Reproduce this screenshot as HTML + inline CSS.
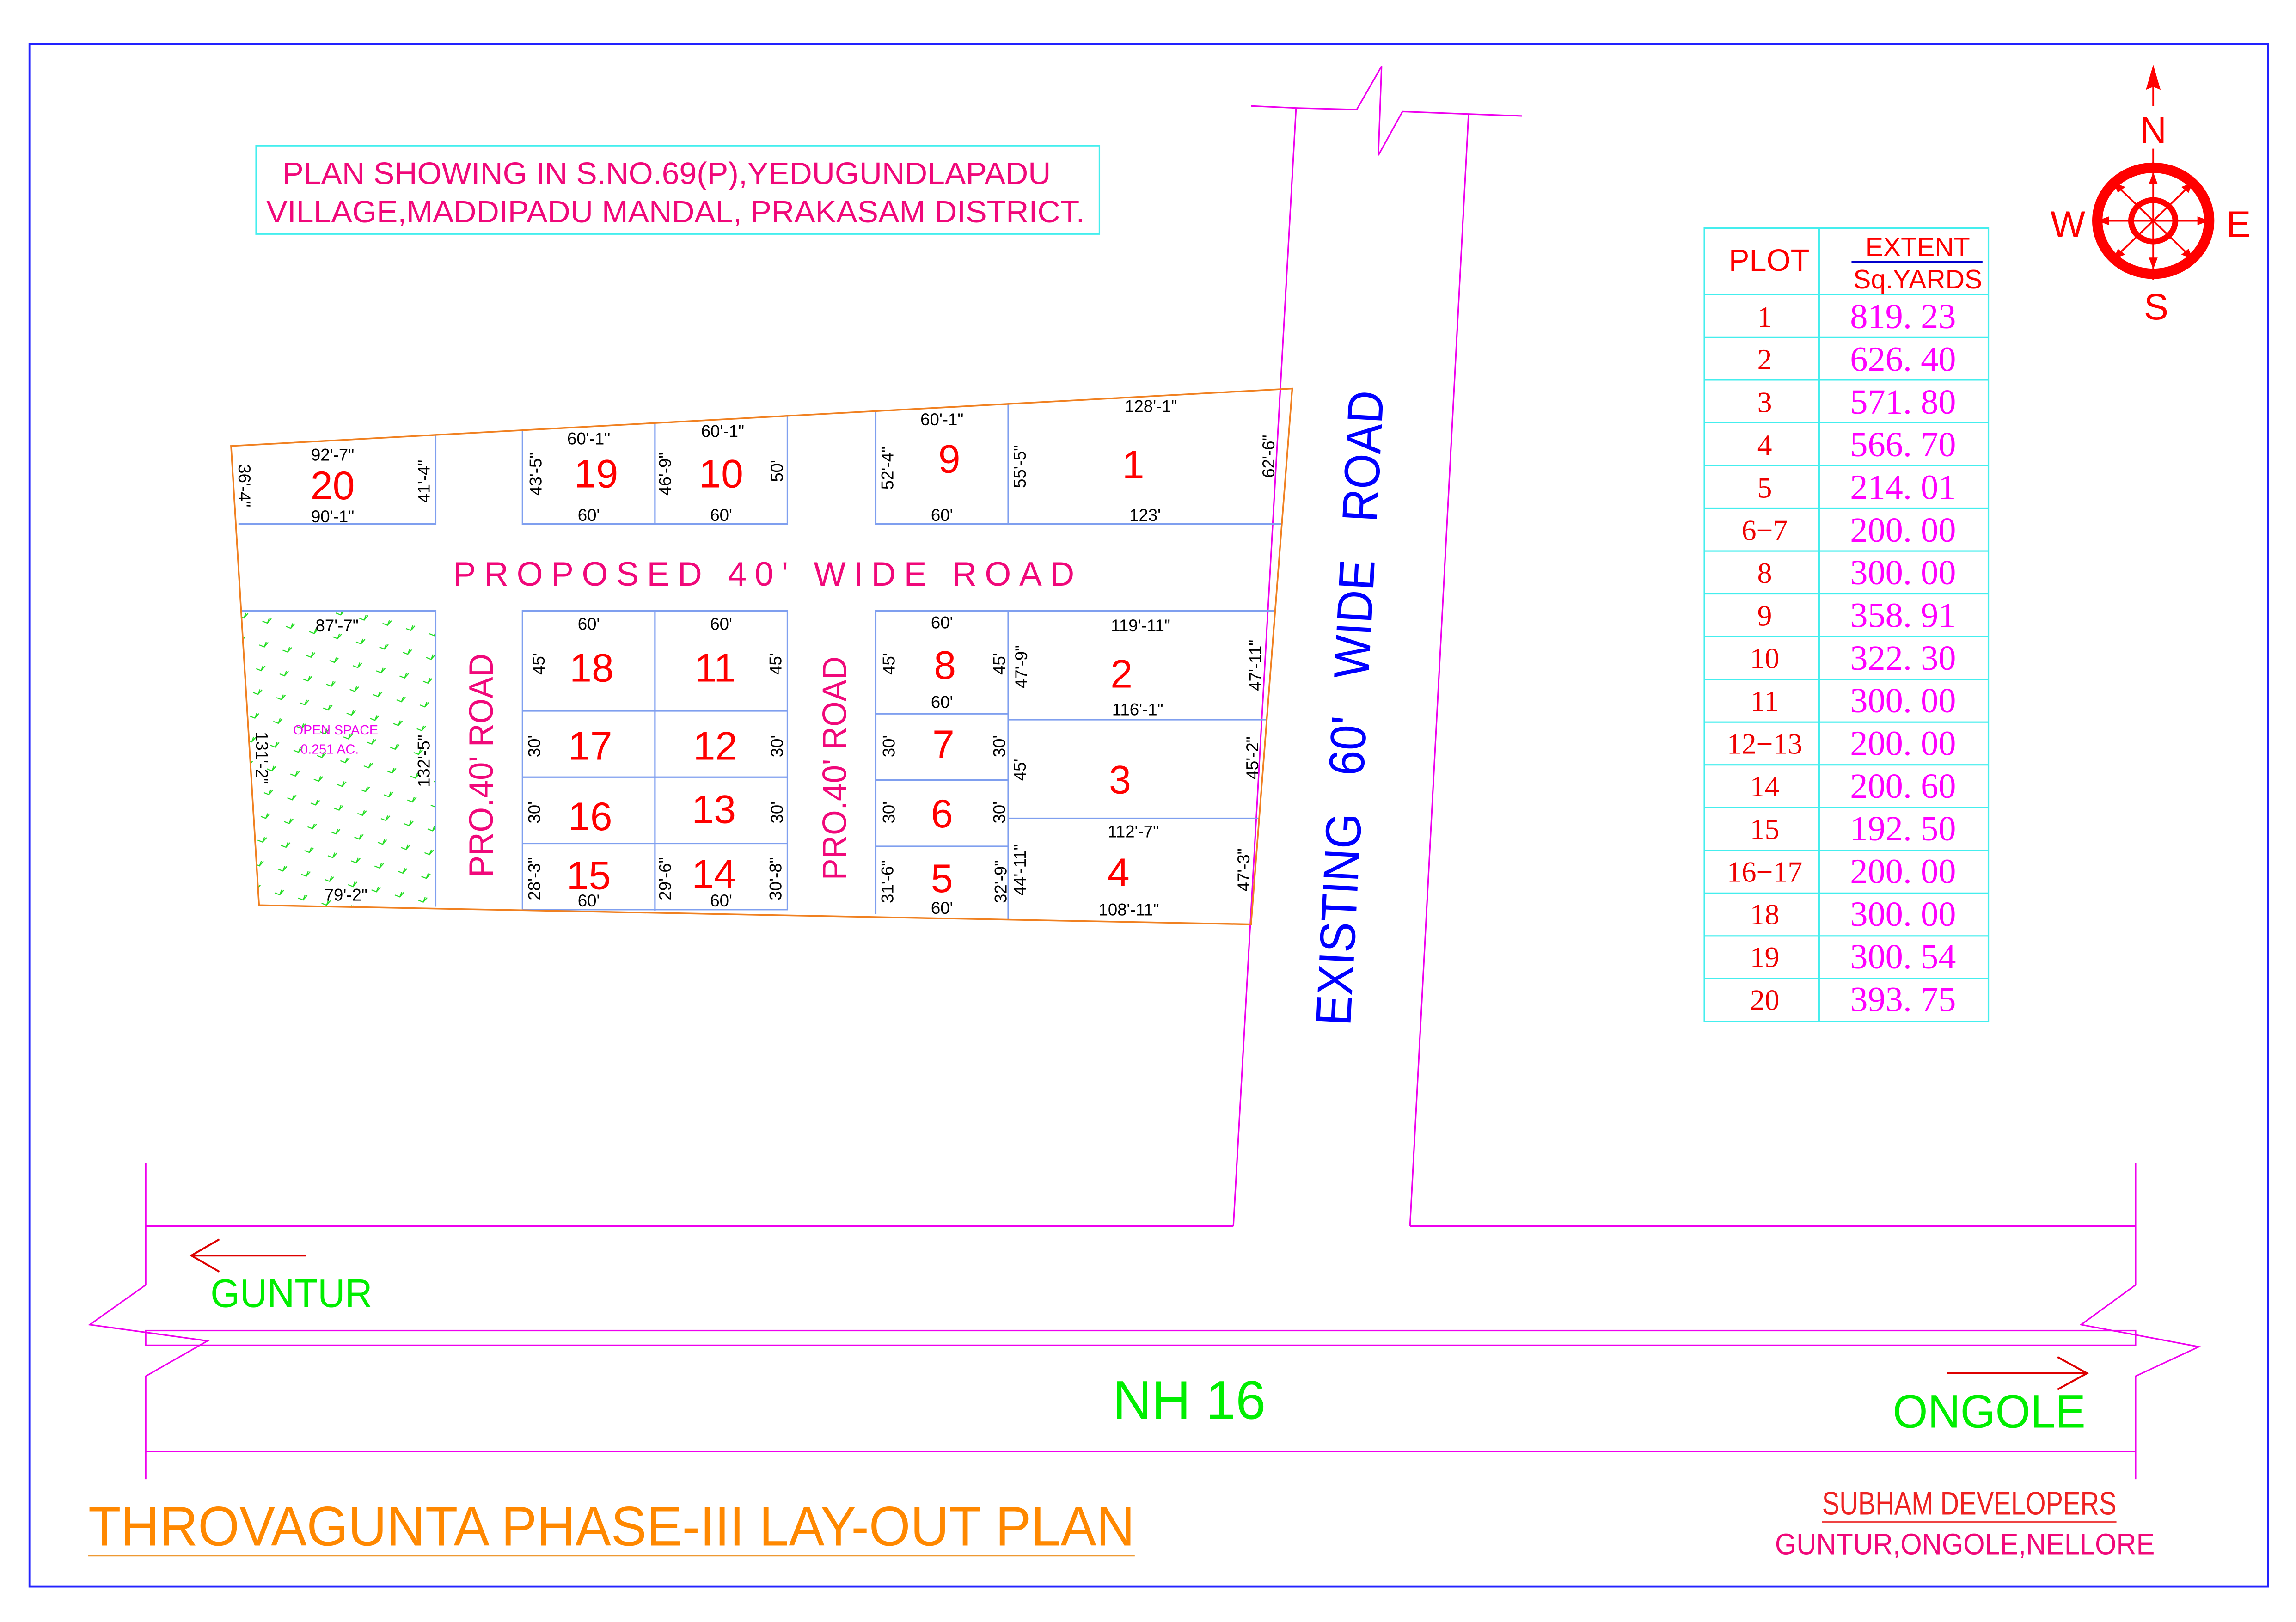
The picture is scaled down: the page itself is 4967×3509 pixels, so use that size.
<!DOCTYPE html>
<html><head><meta charset="utf-8"><style>
html,body{margin:0;padding:0;background:#fff;}
svg{display:block;}
text{font-family:"Liberation Sans",sans-serif;}
.d{font-size:11.5px;fill:#000;text-anchor:middle;dominant-baseline:central;}
.n{font-size:27px;fill:#f00;text-anchor:middle;dominant-baseline:central;}
.tp{font-family:"Liberation Serif",serif;font-size:20px;fill:#e00;text-anchor:middle;}
.tv{font-family:"Liberation Serif",serif;font-size:24px;fill:#f0f;text-anchor:middle;}
</style></head><body>
<svg width="4967" height="3509" viewBox="0 0 1560 1102" preserveAspectRatio="none" xmlns="http://www.w3.org/2000/svg">
<defs>
<pattern id="g" width="22" height="24" patternUnits="userSpaceOnUse" patternTransform="rotate(-35)">
<path d="M3 4 l2 3 l3 -2 M5 7 l4 -1" stroke="#2d2" stroke-width="0.7" fill="none"/>
<path d="M14 16 l2 3 l3 -2 M16 19 l4 -1" stroke="#2d2" stroke-width="0.7" fill="none"/>
</pattern>
</defs>
<rect width="1560" height="1102" fill="#fff"/>
<rect x="20" y="30" width="1521" height="1048" fill="none" stroke="#22f" stroke-width="1.2"/>

<rect x="174" y="99" width="573" height="60" fill="none" stroke="#4ee" stroke-width="1"/>
<text x="192" y="125" font-size="21" fill="#f0087a" textLength="522" lengthAdjust="spacingAndGlyphs">PLAN SHOWING IN S.NO.69(P),YEDUGUNDLAPADU</text>
<text x="181" y="151" font-size="21" fill="#f0087a" textLength="556" lengthAdjust="spacingAndGlyphs">VILLAGE,MADDIPADU MANDAL, PRAKASAM DISTRICT.</text>

<g stroke="#e0e" stroke-width="1" fill="none">
<polyline points="850,72 880.6,73.4 921.8,74.5 938.7,45 936.5,105.5 952.9,75.8 997.8,77.5 1034,78.8"/>
<line x1="880.6" y1="73.4" x2="838" y2="833"/>
<line x1="997.8" y1="77.5" x2="958" y2="833"/>
<polyline points="99,833 838,833"/>
<polyline points="958,833 1451,833"/>
<line x1="99" y1="790" x2="99" y2="873"/>
<polyline points="99,873 61,900 141,911 99,935 99,1005"/>
<line x1="1451" y1="790" x2="1451" y2="873"/>
<polyline points="1451,873 1414,900 1494,915 1451,935 1451,1005"/>
<rect x="99" y="904" width="1352" height="10"/>
<line x1="99" y1="986" x2="1451" y2="986"/>
</g>
<g stroke="#d00" stroke-width="1.3" fill="none">
<line x1="130" y1="853" x2="208" y2="853"/><polyline points="149,842 130,853 149,864"/>
<line x1="1323" y1="933" x2="1418" y2="933"/><polyline points="1398,922 1418,933 1398,944"/>
</g>
<text x="143" y="888" font-size="27" fill="#0e0" textLength="110" lengthAdjust="spacingAndGlyphs">GUNTUR</text>
<text x="756" y="964" font-size="37" fill="#0e0" textLength="104" lengthAdjust="spacingAndGlyphs">NH 16</text>
<text x="1286" y="970" font-size="32" fill="#0e0" textLength="131" lengthAdjust="spacingAndGlyphs">ONGOLE</text>

<text x="60" y="1050" font-size="38" fill="#f80" textLength="711" lengthAdjust="spacingAndGlyphs">THROVAGUNTA PHASE-III LAY-OUT PLAN</text>
<line x1="60" y1="1057" x2="771" y2="1057" stroke="#e93" stroke-width="1"/>
<text x="1238" y="1029" font-size="22" fill="#e22" font-family="Liberation Serif,serif" textLength="200" lengthAdjust="spacingAndGlyphs">SUBHAM  DEVELOPERS</text>
<line x1="1238" y1="1034" x2="1438" y2="1034" stroke="#e44" stroke-width="1"/>
<text x="1206" y="1056" font-size="20" fill="#f0087a" textLength="258" lengthAdjust="spacingAndGlyphs">GUNTUR,ONGOLE,NELLORE</text>

<text transform="translate(917,481) rotate(-87)" font-size="34" fill="#00f" text-anchor="middle" dominant-baseline="central" textLength="432" lengthAdjust="spacingAndGlyphs" xml:space="preserve">EXISTING   60'   WIDE   ROAD</text>

<polygon points="164,415 296,415 296,616 176,615" fill="url(#g)"/>

<g stroke="#7f9fef" stroke-width="1" fill="none">
<polyline points="162,356 296,356 296,295.5"/>
<polyline points="355,292 355,356 535,356 535,282.5"/>
<line x1="445" y1="287.4" x2="445" y2="356"/>
<polyline points="595,279 595,356 871,356"/>
<line x1="685" y1="274.4" x2="685" y2="356"/>
<polyline points="164,415 296,415 296,616"/>
<rect x="355" y="415" width="180" height="203"/>
<line x1="445" y1="415" x2="445" y2="619"/>
<line x1="355" y1="483" x2="535" y2="483"/>
<line x1="355" y1="528" x2="535" y2="528"/>
<line x1="355" y1="573" x2="535" y2="573"/>
<polyline points="595,621 595,415 866,415"/>
<line x1="685" y1="415" x2="685" y2="625"/>
<line x1="595" y1="485" x2="685" y2="485"/>
<line x1="595" y1="530" x2="685" y2="530"/>
<line x1="595" y1="575" x2="685" y2="575"/>
<line x1="685" y1="489" x2="861" y2="489"/>
<line x1="685" y1="556" x2="856" y2="556"/>
</g>
<polygon points="157,303 878,264 850,628 176,615" fill="none" stroke="#f08020" stroke-width="1.1"/>

<text x="519" y="390" font-size="23" fill="#f0087a" text-anchor="middle" dominant-baseline="central" textLength="422" lengthAdjust="spacing">PROPOSED 40' WIDE ROAD</text>
<text transform="translate(327,520) rotate(-90)" font-size="23" fill="#f0087a" text-anchor="middle" dominant-baseline="central" textLength="152" lengthAdjust="spacingAndGlyphs">PRO.40' ROAD</text>
<text transform="translate(567,522) rotate(-90)" font-size="23" fill="#f0087a" text-anchor="middle" dominant-baseline="central" textLength="152" lengthAdjust="spacingAndGlyphs">PRO.40' ROAD</text>

<text class="n" x="226" y="330">20</text>
<text class="n" x="405" y="322">19</text>
<text class="n" x="490" y="322">10</text>
<text class="n" x="645" y="312">9</text>
<text class="n" x="770" y="316">1</text>
<text class="n" x="402" y="454">18</text>
<text class="n" x="486" y="454">11</text>
<text class="n" x="401" y="507">17</text>
<text class="n" x="486" y="507">12</text>
<text class="n" x="401" y="555">16</text>
<text class="n" x="485" y="550">13</text>
<text class="n" x="400" y="595">15</text>
<text class="n" x="485" y="594">14</text>
<text class="n" x="642" y="452">8</text>
<text class="n" x="641" y="506">7</text>
<text class="n" x="640" y="553">6</text>
<text class="n" x="640" y="597">5</text>
<text class="n" x="762" y="458">2</text>
<text class="n" x="761" y="530">3</text>
<text class="n" x="760" y="593">4</text>

<text class="d" x="226" y="309">92'-7"</text>
<text class="d" x="226" y="351">90'-1"</text>
<text class="d" x="400" y="298">60'-1"</text>
<text class="d" x="400" y="350">60'</text>
<text class="d" x="491" y="293">60'-1"</text>
<text class="d" x="490" y="350">60'</text>
<text class="d" x="640" y="285">60'-1"</text>
<text class="d" x="640" y="350">60'</text>
<text class="d" x="782" y="276">128'-1"</text>
<text class="d" x="778" y="350">123'</text>
<text class="d" x="229" y="425">87'-7"</text>
<text class="d" x="235" y="608">79'-2"</text>
<text class="d" x="400" y="424">60'</text>
<text class="d" x="490" y="424">60'</text>
<text class="d" x="400" y="612">60'</text>
<text class="d" x="490" y="612">60'</text>
<text class="d" x="640" y="423">60'</text>
<text class="d" x="640" y="477">60'</text>
<text class="d" x="640" y="617">60'</text>
<text class="d" x="775" y="425">119'-11"</text>
<text class="d" x="773" y="482">116'-1"</text>
<text class="d" x="770" y="565">112'-7"</text>
<text class="d" x="767" y="618">108'-11"</text>
<text x="228" y="499" font-size="9" fill="#e0e" text-anchor="middle">OPEN SPACE</text>
<text x="224" y="512" font-size="9" fill="#e0e" text-anchor="middle">0.251 AC.</text>

<text class="d" transform="translate(166,330) rotate(90)">36'-4"</text>
<text class="d" transform="translate(178,515) rotate(90)">131'-2"</text>
<g>
<text class="d" transform="translate(288,327) rotate(-90)">41'-4"</text>
<text class="d" transform="translate(288,517) rotate(-90)">132'-5"</text>
<text class="d" transform="translate(364,322) rotate(-90)">43'-5"</text>
<text class="d" transform="translate(452,322) rotate(-90)">46'-9"</text>
<text class="d" transform="translate(528,320) rotate(-90)">50'</text>
<text class="d" transform="translate(603,318) rotate(-90)">52'-4"</text>
<text class="d" transform="translate(693,317) rotate(-90)">55'-5"</text>
<text class="d" transform="translate(862,310) rotate(-90)">62'-6"</text>
<text class="d" transform="translate(366,451) rotate(-90)">45'</text>
<text class="d" transform="translate(527,451) rotate(-90)">45'</text>
<text class="d" transform="translate(363,507) rotate(-90)">30'</text>
<text class="d" transform="translate(528,507) rotate(-90)">30'</text>
<text class="d" transform="translate(363,552) rotate(-90)">30'</text>
<text class="d" transform="translate(528,552) rotate(-90)">30'</text>
<text class="d" transform="translate(363,597) rotate(-90)">28'-3"</text>
<text class="d" transform="translate(452,597) rotate(-90)">29'-6"</text>
<text class="d" transform="translate(527,597) rotate(-90)">30'-8"</text>
<text class="d" transform="translate(604,451) rotate(-90)">45'</text>
<text class="d" transform="translate(679,451) rotate(-90)">45'</text>
<text class="d" transform="translate(604,507) rotate(-90)">30'</text>
<text class="d" transform="translate(679,507) rotate(-90)">30'</text>
<text class="d" transform="translate(604,552) rotate(-90)">30'</text>
<text class="d" transform="translate(679,552) rotate(-90)">30'</text>
<text class="d" transform="translate(603,599) rotate(-90)">31'-6"</text>
<text class="d" transform="translate(680,599) rotate(-90)">32'-9"</text>
<text class="d" transform="translate(694,453) rotate(-90)">47'-9"</text>
<text class="d" transform="translate(853,452) rotate(-90)">47'-11"</text>
<text class="d" transform="translate(693,523) rotate(-90)">45'</text>
<text class="d" transform="translate(851,515) rotate(-90)">45'-2"</text>
<text class="d" transform="translate(693,591) rotate(-90)">44'-11"</text>
<text class="d" transform="translate(845,591) rotate(-90)">47'-3"</text>
</g>

<g stroke="#f00" fill="none">
<ellipse cx="1463" cy="150" rx="38" ry="36" stroke-width="7"/>
<ellipse cx="1463" cy="150" rx="15" ry="14" stroke-width="4"/>
<line x1="1463" y1="110" x2="1463" y2="190" stroke-width="1.2"/>
<line x1="1427" y1="150" x2="1499" y2="150" stroke-width="1.2"/>
<line x1="1437" y1="125" x2="1489" y2="175" stroke-width="1.2"/>
<line x1="1489" y1="125" x2="1437" y2="175" stroke-width="1.2"/>
<line x1="1463" y1="57" x2="1463" y2="72" stroke-width="1.2"/>
<line x1="1463" y1="101" x2="1463" y2="114" stroke-width="1.2"/>
</g>
<g fill="#f00">
<polygon points="1463,44 1458,61 1463,59 1468,61"/>
<polygon points="1463,117 1460,125 1466,125"/>
<polygon points="1463,183 1460,175 1466,175"/>
<polygon points="1425,150 1433,147 1433,153"/>
<polygon points="1501,150 1493,147 1493,153"/>
<polygon points="1436,124 1444,127 1439,131"/>
<polygon points="1490,124 1487,131 1482,127"/>
<polygon points="1436,176 1439,169 1444,173"/>
<polygon points="1490,176 1482,173 1487,169"/>
</g>
<text x="1463" y="97" font-size="25" fill="#f00" text-anchor="middle">N</text>
<text x="1405" y="161" font-size="25" fill="#f00" text-anchor="middle">W</text>
<text x="1521" y="161" font-size="25" fill="#f00" text-anchor="middle">E</text>
<text x="1465" y="217" font-size="25" fill="#f00" text-anchor="middle">S</text>

<g stroke="#4ee" stroke-width="1" fill="none">
<rect x="1158" y="155" width="193" height="539"/>
<line x1="1236" y1="155" x2="1236" y2="694"/>
<line x1="1158" y1="200" x2="1351" y2="200"/>
<line x1="1158" y1="229.06" x2="1351" y2="229.06"/>
<line x1="1158" y1="258.12" x2="1351" y2="258.12"/>
<line x1="1158" y1="287.18" x2="1351" y2="287.18"/>
<line x1="1158" y1="316.24" x2="1351" y2="316.24"/>
<line x1="1158" y1="345.3" x2="1351" y2="345.3"/>
<line x1="1158" y1="374.36" x2="1351" y2="374.36"/>
<line x1="1158" y1="403.42" x2="1351" y2="403.42"/>
<line x1="1158" y1="432.48" x2="1351" y2="432.48"/>
<line x1="1158" y1="461.54" x2="1351" y2="461.54"/>
<line x1="1158" y1="490.6" x2="1351" y2="490.6"/>
<line x1="1158" y1="519.66" x2="1351" y2="519.66"/>
<line x1="1158" y1="548.72" x2="1351" y2="548.72"/>
<line x1="1158" y1="577.78" x2="1351" y2="577.78"/>
<line x1="1158" y1="606.84" x2="1351" y2="606.84"/>
<line x1="1158" y1="635.9" x2="1351" y2="635.9"/>
<line x1="1158" y1="664.96" x2="1351" y2="664.96"/>
</g>
<text x="1202" y="184" font-size="21" fill="#f00" text-anchor="middle">PLOT</text>
<text x="1303" y="174" font-size="18" fill="#f00" text-anchor="middle">EXTENT</text>
<line x1="1258" y1="178" x2="1347" y2="178" stroke="#00c" stroke-width="1.2"/>
<text x="1303" y="196" font-size="18" fill="#f00" text-anchor="middle">Sq.YARDS</text>
<g>
<text class="tp" x="1199" y="222">1</text><text class="tv" x="1293" y="223">819. 23</text>
<text class="tp" x="1199" y="251">2</text><text class="tv" x="1293" y="252">626. 40</text>
<text class="tp" x="1199" y="280">3</text><text class="tv" x="1293" y="281">571. 80</text>
<text class="tp" x="1199" y="309">4</text><text class="tv" x="1293" y="310">566. 70</text>
<text class="tp" x="1199" y="338">5</text><text class="tv" x="1293" y="339">214. 01</text>
<text class="tp" x="1199" y="367">6−7</text><text class="tv" x="1293" y="368">200. 00</text>
<text class="tp" x="1199" y="396">8</text><text class="tv" x="1293" y="397">300. 00</text>
<text class="tp" x="1199" y="425">9</text><text class="tv" x="1293" y="426">358. 91</text>
<text class="tp" x="1199" y="454">10</text><text class="tv" x="1293" y="455">322. 30</text>
<text class="tp" x="1199" y="483">11</text><text class="tv" x="1293" y="484">300. 00</text>
<text class="tp" x="1199" y="512">12−13</text><text class="tv" x="1293" y="513">200. 00</text>
<text class="tp" x="1199" y="541">14</text><text class="tv" x="1293" y="542">200. 60</text>
<text class="tp" x="1199" y="570">15</text><text class="tv" x="1293" y="571">192. 50</text>
<text class="tp" x="1199" y="599">16−17</text><text class="tv" x="1293" y="600">200. 00</text>
<text class="tp" x="1199" y="628">18</text><text class="tv" x="1293" y="629">300. 00</text>
<text class="tp" x="1199" y="657">19</text><text class="tv" x="1293" y="658">300. 54</text>
<text class="tp" x="1199" y="686">20</text><text class="tv" x="1293" y="687">393. 75</text>
</g>
</svg>
</body></html>
